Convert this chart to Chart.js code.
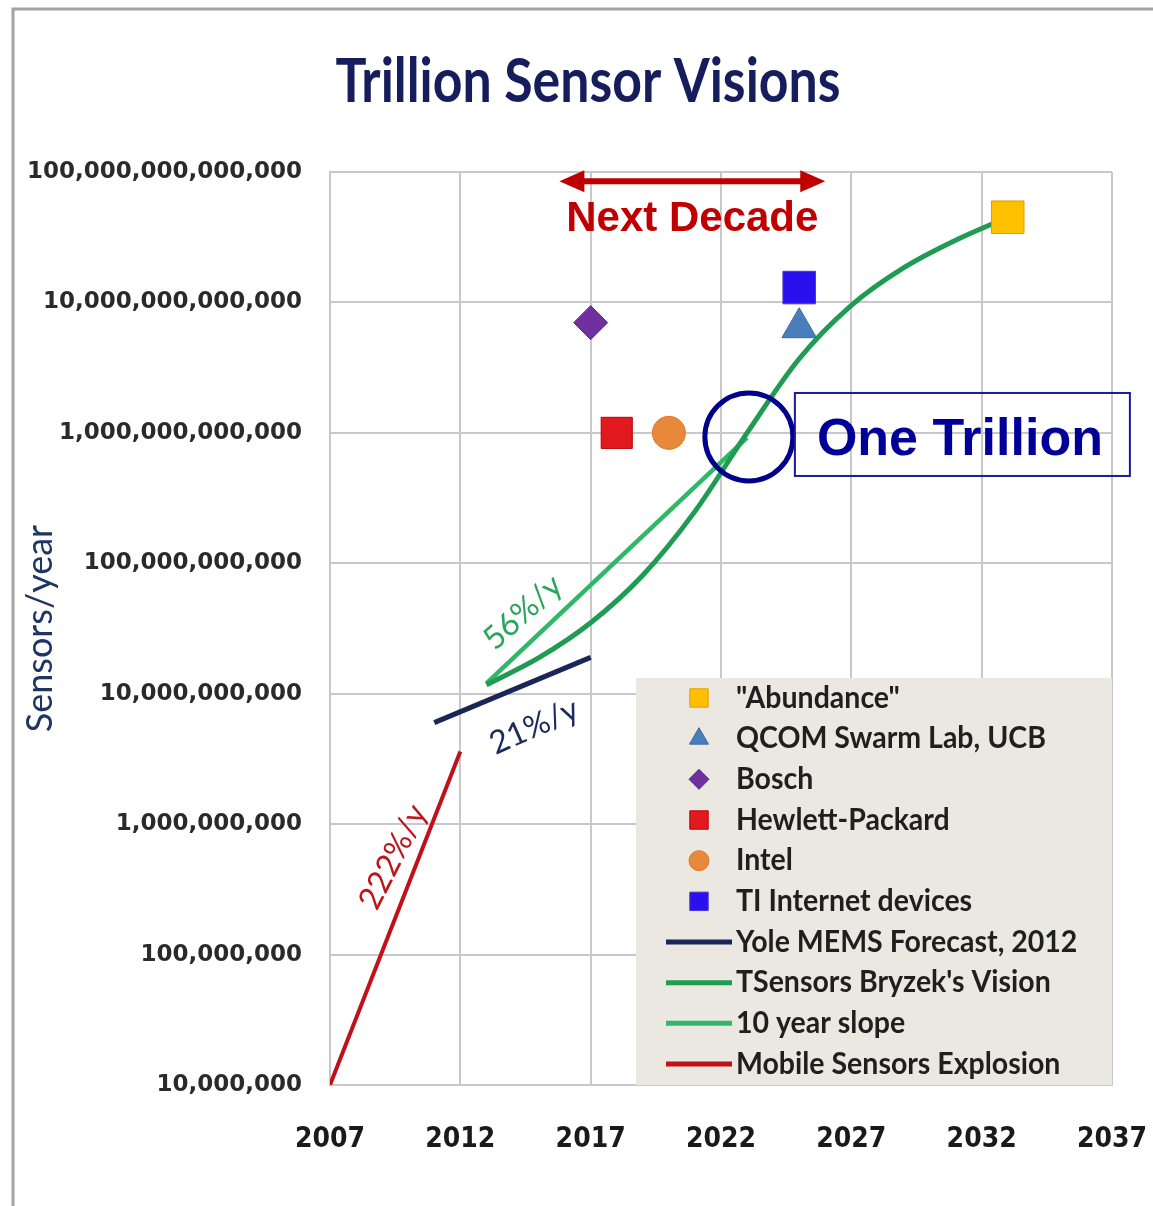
<!DOCTYPE html>
<html lang="en">
<head>
<meta charset="utf-8">
<title>Trillion Sensor Visions</title>
<script src="https://cdn.jsdelivr.net/npm/chart.js@4.4.1/dist/chart.umd.min.js"></script>
<style>
  html, body { margin: 0; padding: 0; background: #ffffff; }
  #chartWrap { width: 1153px; height: 1206px; }
  canvas { display: block; }
</style>
</head>
<body>
<div id="chartWrap"><canvas id="sensorChart" width="1153" height="1206"></canvas></div>
<script>
// axis ticks
const xTickYears = [2007, 2012, 2017, 2022, 2027, 2032, 2037];
const yTickValues = [1e7, 1e8, 1e9, 1e10, 1e11, 1e12, 1e13, 1e14];

// single forecasts (markers)
const forecastNames = ['"Abundance"', "QCOM Swarm Lab, UCB", "Bosch", "Hewlett-Packard", "Intel", "TI Internet devices"];
const forecastYears = [2033, 2025, 2017, 2018, 2020, 2025];
const forecastValues = [4.5e13, 6.4e12, 7.0e12, 1.0e12, 1.0e12, 1.3e13];

// trend lines
const yoleYears = [2011, 2017];
const yoleValues = [6.0e9, 1.9e10];

const bryzekYears = [2013, 2015, 2017, 2019, 2021, 2023, 2025, 2027, 2029, 2031, 2033];
const bryzekValues = [1.17e10, 1.88e10, 3.5e10, 8.1e10, 2.5e11, 1.0e12, 3.7e12, 9.5e12, 1.84e13, 3.0e13, 4.5e13];

const slopeYears = [2013, 2023];
const slopeValues = [1.2e10, 9.2e11];

const mobileYears = [2007, 2012];
const mobileValues = [1.0e7, 3.6e9];

const markerStyles = [
    { shape: "rect", radius: 23, legendRadius: 13, fill: "#ffc000", stroke: "#e39d00" },
    { shape: "triangle", radius: 20, legendRadius: 11, fill: "#4a7ebb", stroke: "#3d6aa3" },
    { shape: "rectRot", radius: 17, legendRadius: 10, fill: "#7030a0", stroke: "#5c2585" },
    { shape: "rect", radius: 22, legendRadius: 13, fill: "#e2191f", stroke: "#b8000c" },
    { shape: "circle", radius: 16.5, legendRadius: 10, fill: "#e8883a", stroke: "#e07a2a" },
    { shape: "rect", radius: 23, legendRadius: 13, fill: "#2b10ee", stroke: "#4b35c8" }
];

const decadeArrow = { from: 2015.8, to: 2026, level: 8.5e13 };
const decadeLabel = { text: "Next Decade", year: 2020.9, level: 3.5e13 };
const trillionMark = { year: 2023.07, level: 9.3e11, text: "One Trillion" };
const slopeLabels = [
    { text: "56%/y", year: 2014.4, level: 4.2e10, angle: -42, color: "#2aa55a" },
    { text: "21%/y", year: 2014.83, level: 5.6e9, angle: -24, color: "#1c2a5c" },
    { text: "222%/y", year: 2009.42, level: 5.6e8, angle: -63, color: "#c0141c" }
];

function drawMarker(ctx, shape, x, y, r) {
    ctx.beginPath();
    if (shape === "circle") {
        ctx.arc(x, y, r, 0, Math.PI * 2);
    } else if (shape === "rect") {
        const s = r * Math.SQRT1_2;
        ctx.rect(x - s, y - s, 2 * s, 2 * s);
    } else if (shape === "rectRot") {
        ctx.moveTo(x, y - r);
        ctx.lineTo(x + r, y);
        ctx.lineTo(x, y + r);
        ctx.lineTo(x - r, y);
        ctx.closePath();
    } else if (shape === "triangle") {
        ctx.moveTo(x, y - r);
        ctx.lineTo(x + r * 0.866, y + r / 2);
        ctx.lineTo(x - r * 0.866, y + r / 2);
        ctx.closePath();
    }
    ctx.fill();
    ctx.stroke();
}

function drawScaledText(ctx, text, x, y, sx) {
    ctx.save();
    ctx.translate(x, y);
    ctx.scale(sx, 1);
    ctx.fillText(text, 0, 0);
    ctx.restore();
}

const framePlugin = {
    id: "frame",
    beforeDraw(chart) {
        const { ctx, width, height } = chart;
        ctx.save();
        ctx.fillStyle = "#ffffff";
        ctx.fillRect(0, 0, width, height);
        ctx.strokeStyle = "#a3a3a3";
        ctx.lineWidth = 3;
        ctx.beginPath();
        ctx.moveTo(13, height);
        ctx.lineTo(13, 9);
        ctx.lineTo(width, 9);
        ctx.stroke();

        ctx.fillStyle = "#161d5c";
        ctx.font = "bold 62px Lato, sans-serif";
        ctx.textAlign = "center";
        ctx.textBaseline = "alphabetic";
        drawScaledText(ctx, "Trillion Sensor Visions", 588, 102, 0.835);
        ctx.restore();
    }
};

const notesPlugin = {
    id: "sensorNotes",
    afterDatasetsDraw(chart) {
        const { ctx, scales: { x, y } } = chart;
        ctx.save();

        // next decade arrow
        const ax1 = x.getPixelForValue(decadeArrow.from);
        const ax2 = x.getPixelForValue(decadeArrow.to);
        const ay = y.getPixelForValue(decadeArrow.level);
        ctx.strokeStyle = "#c00000";
        ctx.fillStyle = "#c00000";
        ctx.lineWidth = 6;
        ctx.beginPath();
        ctx.moveTo(ax1 + 20, ay);
        ctx.lineTo(ax2 - 20, ay);
        ctx.stroke();
        [[ax1, 1], [ax2, -1]].forEach(([tip, dir]) => {
            ctx.beginPath();
            ctx.moveTo(tip, ay);
            ctx.lineTo(tip + dir * 25, ay - 11);
            ctx.lineTo(tip + dir * 25, ay + 11);
            ctx.closePath();
            ctx.fill();
        });

        ctx.font = "bold 42px 'Liberation Sans', Arial, sans-serif";
        ctx.textAlign = "center";
        ctx.textBaseline = "alphabetic";
        ctx.fillText(decadeLabel.text, x.getPixelForValue(decadeLabel.year), y.getPixelForValue(decadeLabel.level));

        // one trillion circle and box
        const cx = x.getPixelForValue(trillionMark.year);
        const cy = y.getPixelForValue(trillionMark.level);
        ctx.strokeStyle = "#00008c";
        ctx.lineWidth = 5;
        ctx.beginPath();
        ctx.arc(cx, cy, 44, 0, Math.PI * 2);
        ctx.stroke();

        ctx.strokeStyle = "#1a1a9a";
        ctx.lineWidth = 2;
        ctx.strokeRect(cx + 46, cy - 44, 335, 83);
        ctx.fillStyle = "#000099";
        ctx.font = "bold 52px 'Liberation Sans', Arial, sans-serif";
        ctx.textAlign = "left";
        ctx.fillText(trillionMark.text, cx + 68, cy + 18);

        // growth rate labels
        ctx.font = "32px Lato, sans-serif";
        ctx.textAlign = "center";
        ctx.textBaseline = "middle";
        slopeLabels.forEach((note) => {
            ctx.save();
            ctx.translate(x.getPixelForValue(note.year), y.getPixelForValue(note.level));
            ctx.rotate(note.angle * Math.PI / 180);
            ctx.fillStyle = note.color;
            ctx.fillText(note.text, 0, 0);
            ctx.restore();
        });
        ctx.restore();
    }
};

const legendBoxPlugin = {
    id: "legendBox",
    afterDraw(chart) {
        const { ctx, chartArea } = chart;
        const w = 476;
        const h = 407;
        const left = chartArea.right - w;
        const top = chartArea.bottom - h;
        ctx.save();
        ctx.fillStyle = "#ebe8e1";
        ctx.fillRect(left, top, w, h);
        ctx.font = "bold 30px Lato, sans-serif";
        ctx.textBaseline = "middle";
        ctx.textAlign = "left";
        chart.data.datasets.forEach((ds, i) => {
            const rowY = top + 20 + i * 40.67;
            if (ds.showLine === false) {
                ctx.fillStyle = ds.pointBackgroundColor;
                ctx.strokeStyle = ds.pointBorderColor;
                ctx.lineWidth = 1;
                drawMarker(ctx, ds.pointStyle, left + 63, rowY, ds.legendRadius);
            } else {
                ctx.strokeStyle = ds.borderColor;
                ctx.lineWidth = 5;
                ctx.beginPath();
                ctx.moveTo(left + 30, rowY);
                ctx.lineTo(left + 96, rowY);
                ctx.stroke();
            }
            ctx.fillStyle = "#1f1f1f";
            drawScaledText(ctx, ds.label, left + 100, rowY, 0.95);
        });
        ctx.restore();
    }
};

function trendSet(label, years, values, color, width, smooth) {
    return {
        label,
        data: years.map((year, i) => ({ x: year, y: values[i] })),
        borderColor: color,
        backgroundColor: color,
        borderWidth: width,
        pointRadius: 0,
        pointHoverRadius: 0,
        fill: false,
        cubicInterpolationMode: smooth ? "monotone" : "default"
    };
}

const pointSets = forecastNames.map((name, i) => ({
    label: name,
    data: [{ x: forecastYears[i], y: forecastValues[i] }],
    showLine: false,
    pointStyle: markerStyles[i].shape,
    pointRadius: markerStyles[i].radius,
    pointHoverRadius: markerStyles[i].radius,
    pointBackgroundColor: markerStyles[i].fill,
    pointBorderColor: markerStyles[i].stroke,
    pointBorderWidth: 1,
    backgroundColor: markerStyles[i].fill,
    borderColor: markerStyles[i].stroke,
    legendRadius: markerStyles[i].legendRadius
}));

const lineSets = [
    trendSet("Yole MEMS Forecast, 2012", yoleYears, yoleValues, "#1b2657", 5, false),
    trendSet("TSensors Bryzek's Vision", bryzekYears, bryzekValues, "#1f9b52", 5, true),
    trendSet("10 year slope", slopeYears, slopeValues, "#2fb866", 4.5, false),
    trendSet("Mobile Sensors Explosion", mobileYears, mobileValues, "#c0101a", 4, false)
];

new Chart(document.getElementById("sensorChart"), {
    type: "line",
    data: { datasets: [...pointSets, ...lineSets] },
    options: {
        responsive: false,
        animation: false,
        layout: { padding: { left: 0, right: 41, top: 172, bottom: 0 } },
        plugins: {
            legend: { display: false },
            title: { display: false },
            tooltip: { enabled: false }
        },
        scales: {
            x: {
                type: "linear",
                min: 2007,
                max: 2037,
                afterBuildTicks: (scale) => { scale.ticks = xTickYears.map((v) => ({ value: v })); },
                afterFit: (scale) => {
                    scale.height = 121;
                    scale.paddingLeft = 0;
                    scale.paddingRight = 0;
                },
                grid: { color: "#c8c8c8", lineWidth: 2, drawTicks: false },
                border: { color: "#c8c8c8", width: 2 },
                ticks: {
                    padding: 38,
                    autoSkip: false,
                    maxRotation: 0,
                    color: "#1a1a1a",
                    font: { family: "'DejaVu Sans Condensed', sans-serif", size: 28, weight: "bold" },
                    callback: (value) => String(value)
                }
            },
            y: {
                type: "logarithmic",
                min: 1e7,
                max: 1e14,
                afterBuildTicks: (scale) => { scale.ticks = yTickValues.map((v) => ({ value: v })); },
                afterFit: (scale) => {
                    scale.width = 330;
                    scale.paddingTop = 0;
                    scale.paddingBottom = 0;
                },
                grid: { color: "#c8c8c8", lineWidth: 2, drawTicks: false },
                border: { color: "#c8c8c8", width: 2 },
                title: {
                    display: true,
                    text: "Sensors/year",
                    color: "#1f3564",
                    font: { family: "Lato, sans-serif", size: 36 },
                    padding: { top: 19, bottom: 0 }
                },
                ticks: {
                    padding: 28,
                    autoSkip: false,
                    color: "#2a2a2a",
                    font: { family: "'DejaVu Sans', sans-serif", size: 23, weight: "bold" },
                    callback: (value) => Number(value).toLocaleString("en-US")
                }
            }
        }
    },
    plugins: [framePlugin, notesPlugin, legendBoxPlugin]
});
</script>
</body>
</html>
